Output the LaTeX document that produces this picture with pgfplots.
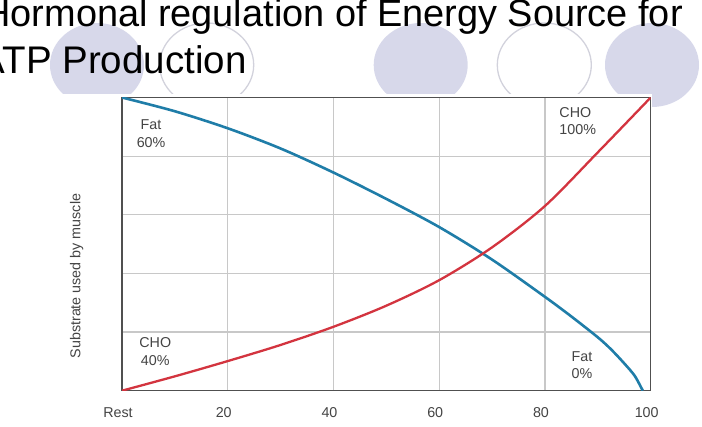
\documentclass[border=0pt]{standalone}
\usepackage{fontspec}
\setmainfont{Liberation Sans}
\usepackage{pgfplots}
\pgfplotsset{compat=1.18}
\definecolor{lav}{HTML}{D7D8EA}
\definecolor{ringc}{HTML}{D2D2DC}
\definecolor{fatblue}{HTML}{1F7DA8}
\definecolor{chored}{HTML}{D3343F}
\definecolor{gridc}{HTML}{C8C8C8}
\definecolor{framec}{HTML}{505050}
\definecolor{txt}{HTML}{444444}

% Fat share of substrate use across exercise intensity
\pgfplotstableread{
x y
0 100
10 95.3
20 89.5
30 82.6
40 74.4
50 65.4
60 55.8
70 44.7
80 32.0
85 25.3
90 18.2
92.5 14.1
95 9.3
97 5.0
98.5 0
}\fatdata

% Carbohydrate share of substrate use across exercise intensity
\pgfplotstableread{
x y
0 0
10 4.9
20 10.1
30 15.6
40 21.8
50 29.0
60 37.7
70 48.9
80 63.0
90 81.3
100 100
}\chodata

\begin{document}
\begin{tikzpicture}
\path[use as bounding box] (0pt,0pt) rectangle (702pt,427pt);
% decorative slide ellipses
\fill[lav] (97pt,362pt) ellipse [x radius=47pt, y radius=42pt];
\draw[ringc, line width=1.3pt] (206.7pt,362pt) ellipse [x radius=47pt, y radius=42pt];
\fill[lav] (420.7pt,362pt) ellipse [x radius=47pt, y radius=42pt];
\draw[ringc, line width=1.3pt] (544.3pt,362pt) ellipse [x radius=47pt, y radius=42pt];
\fill[lav] (652pt,362pt) ellipse [x radius=47pt, y radius=42pt];
% white chart panel
\fill[white] (40pt,0pt) rectangle (652pt,333pt);
% slide title
\node[anchor=base east, inner sep=0pt, font=\fontsize{37.9}{46}\selectfont] at (683pt,400pt) {Hormonal regulation of Energy Source for};
\node[anchor=base east, inner sep=0pt, font=\fontsize{38.5}{46}\selectfont] at (246.7pt,353.7pt) {ATP Production};

\begin{axis}[
  at={(122pt,36.3pt)}, anchor=south west,
  width=528.7pt, height=293.2pt, scale only axis,
  xmin=0, xmax=100, ymin=0, ymax=100,
  axis line style={framec, line width=1.3pt},
  xtick={0,20,40,60,80,100},
  xticklabels={Rest,20,40,60,80,100},
  ytick={20,40,60,80}, yticklabels={},
  major tick length=0pt,
  grid=major, grid style={gridc, line width=1.2pt},
  /pgf/number format/assume math mode=true,
  xticklabel style={font=\fontsize{14.3}{16}\selectfont, text=txt, yshift=-13pt, xshift=-4pt},
  ylabel={Substrate used by muscle},
  ylabel style={at={(axis description cs:-0.0857,0.391)}, anchor=center, font=\fontsize{14.3}{16}\selectfont, text=txt},
]
\addplot[fatblue, line width=2.6pt, smooth, tension=0.5] table[x=x,y=y] {\fatdata};
\addplot[chored, line width=2.3pt, smooth, tension=0.5] table[x=x,y=y] {\chodata};
\node[align=center, font=\fontsize{14.3}{17.5}\selectfont, text=txt] at (axis cs:5.5,87.6) {Fat\\60\%};
\node[align=center, font=\fontsize{14.3}{17.5}\selectfont, text=txt] at (axis cs:6.3,13.4) {CHO\\40\%};
\node[align=left, anchor=west, inner sep=0pt, font=\fontsize{14.3}{17.5}\selectfont, text=txt] at (axis cs:82.7,92) {CHO\\100\%};
\node[align=center, font=\fontsize{14.3}{17.5}\selectfont, text=txt] at (axis cs:87,8.7) {Fat\\0\%};
\end{axis}
\end{tikzpicture}
\end{document}
